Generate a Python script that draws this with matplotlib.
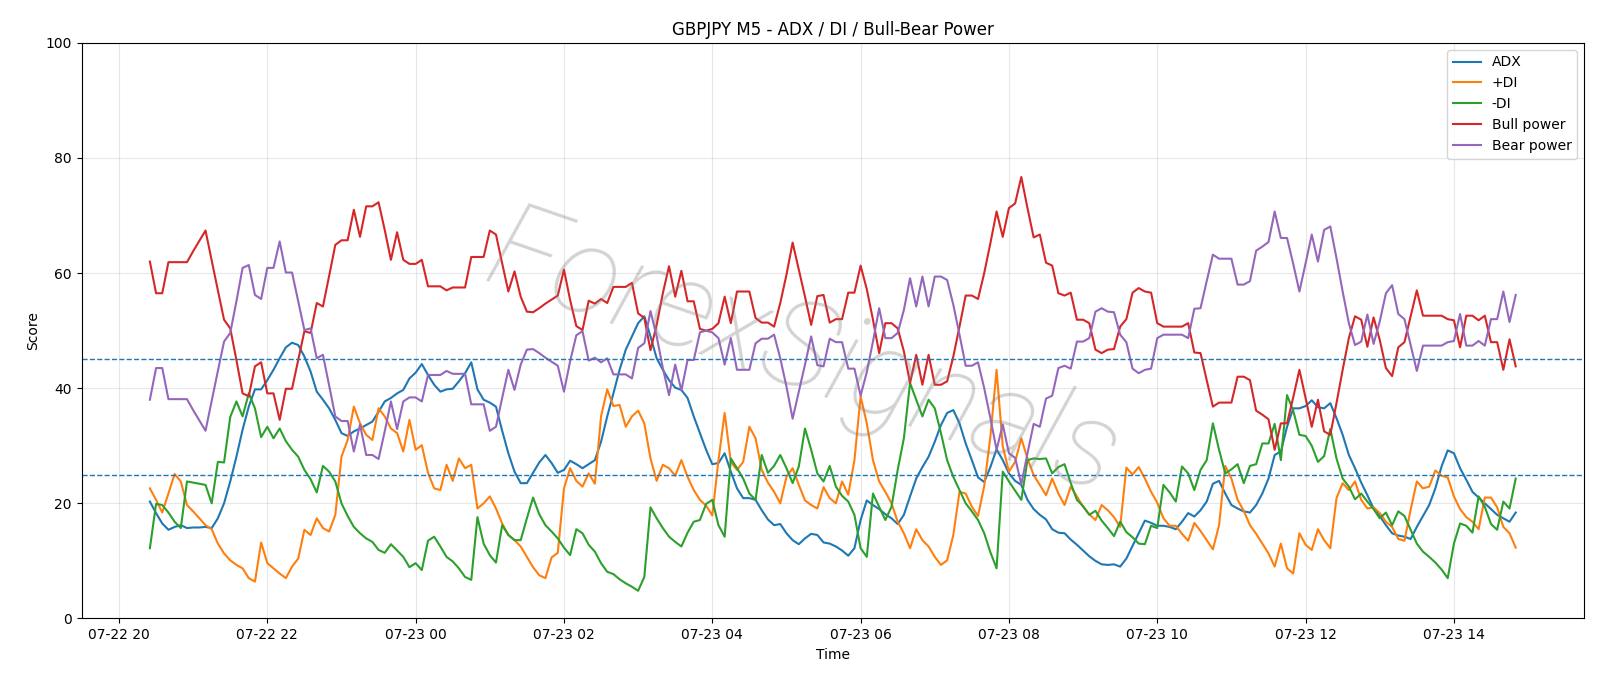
import pandas as pd
import matplotlib
matplotlib.use("Agg")
import matplotlib.pyplot as plt

# GBPJPY M5, 5-minute bars from 07-22 20:25 to 07-23 14:50
start_time = "2025-07-22 20:25"

adx = [
    20.3, 18.3, 16.5, 15.4, 15.9, 16.2, 15.7, 15.8, 15.8, 15.9,
    15.7, 17.4, 20.0, 23.8, 28.1, 32.8, 36.8, 39.8, 39.8, 41.4,
    43.2, 45.2, 47.1, 47.9, 47.5, 45.5, 42.9, 39.4, 38.0, 36.5,
    34.5, 32.2, 31.7, 32.5, 33.0, 33.6, 34.2, 35.9, 37.7, 38.3,
    39.1, 39.7, 41.7, 42.7, 44.2, 42.3, 40.6, 39.4, 39.8, 39.9,
    41.2, 42.6, 44.5, 39.8, 38.0, 37.5, 36.8, 32.6, 28.7, 25.5,
    23.5, 23.5, 25.3, 27.1, 28.4, 27.0, 25.3, 25.8, 27.4, 26.8,
    26.1, 26.8, 27.5, 30.7, 35.1, 39.1, 43.2, 46.7, 49.0, 51.3,
    52.5, 49.0, 45.2, 43.2, 41.4, 40.1, 39.7, 38.3, 35.1, 32.2,
    29.3, 26.8, 27.0, 28.7, 25.5, 22.6, 20.9, 20.9, 20.6, 18.8,
    17.2, 16.2, 16.4, 14.8, 13.6, 12.9, 13.9, 14.7, 14.5, 13.2,
    13.0, 12.5, 11.8, 10.9, 12.2, 17.1, 20.5, 19.7, 19.0, 18.1,
    17.4, 16.4, 18.0, 21.2, 24.3, 26.3, 28.1, 30.7, 33.6, 35.7,
    36.2, 33.9, 30.4, 27.5, 24.5, 23.7, 26.3, 29.4, 27.5, 25.2,
    23.9, 23.2, 20.6, 19.0, 18.0, 17.2, 15.5, 14.9, 14.8, 13.7,
    12.8, 11.8, 10.8, 10.0, 9.4, 9.3, 9.4, 9.0, 10.4, 12.6,
    14.8, 17.0, 16.6, 16.1, 16.1, 15.9, 15.5, 16.8, 18.3, 17.7,
    18.8, 20.3, 23.4, 23.9, 21.7, 19.7, 19.1, 18.6, 18.4, 19.7,
    21.7, 24.3, 28.4, 29.0, 33.3, 36.5, 36.5, 36.9, 37.9, 36.7,
    36.5, 37.4, 34.8, 31.9, 28.4, 26.1, 23.6, 21.4, 19.1, 17.8,
    16.2, 14.8, 14.4, 14.2, 13.8, 15.9, 17.8, 19.7, 22.6, 26.4,
    29.2, 28.7, 26.1, 24.1, 22.0, 21.0, 20.0, 19.0, 18.0, 17.4,
    16.8, 18.4,
]

plus_di = [
    22.6, 20.6, 18.4, 21.7, 25.1, 23.8, 19.7, 18.6, 17.4, 16.2,
    15.5, 13.0, 11.3, 10.1, 9.3, 8.7, 7.0, 6.4, 13.2, 9.6,
    8.7, 7.8, 7.0, 9.0, 10.4, 15.4, 14.5, 17.4, 15.7, 15.1,
    18.0, 28.1, 31.0, 36.8, 33.9, 31.9, 31.0, 36.5, 35.1, 33.0,
    32.2, 29.0, 34.5, 29.3, 30.1, 25.3, 22.6, 22.3, 26.7, 23.9,
    27.8, 26.1, 26.7, 19.1, 20.0, 21.2, 19.1, 16.5, 14.5, 13.6,
    12.5, 10.7, 8.9, 7.5, 7.0, 10.6, 11.4, 22.6, 26.1, 23.9,
    22.9, 25.2, 23.4, 35.1, 39.8, 36.9, 37.1, 33.3, 35.1, 36.1,
    33.9, 27.8, 23.9, 26.7, 26.1, 24.8, 27.5, 24.6, 22.3, 20.6,
    19.6, 17.9, 27.5, 35.7, 27.2, 25.8, 27.2, 33.3, 31.3, 25.8,
    23.6, 22.0, 20.0, 24.6, 26.1, 23.2, 20.5, 19.7, 19.1, 22.8,
    20.9, 20.0, 23.8, 21.5, 27.5, 38.6, 33.9, 27.5, 23.8, 22.0,
    20.0, 16.8, 14.8, 12.2, 15.5, 13.6, 12.5, 10.7, 9.3, 10.1,
    14.5, 22.0, 21.7, 19.4, 17.8, 23.0, 31.6, 43.2, 29.9, 25.5,
    27.2, 31.3, 27.8, 24.9, 23.2, 21.4, 24.3, 21.7, 19.7, 22.9,
    21.2, 19.4, 18.1, 17.1, 19.7, 18.8, 17.6, 15.9, 26.2, 25.0,
    26.3, 24.3, 22.0, 20.1, 17.4, 16.1, 16.1, 14.7, 13.5, 16.6,
    15.2, 13.6, 12.0, 16.2, 26.5, 24.3, 20.6, 18.7, 16.2, 14.7,
    13.0, 11.3, 9.0, 13.0, 8.7, 7.8, 14.8, 12.8, 11.9, 15.5,
    13.6, 12.2, 20.9, 23.5, 22.3, 23.8, 20.6, 19.1, 19.3, 18.3,
    16.8, 15.9, 13.8, 13.5, 18.9, 23.8, 22.6, 22.9, 25.7, 24.8,
    24.5, 21.2, 19.0, 17.6, 16.8, 15.5, 21.0, 21.0, 19.3, 15.9,
    14.8, 12.3,
]

minus_di = [
    12.2, 19.9, 19.7, 18.4, 16.8, 15.7, 23.8, 23.6, 23.4, 23.2,
    20.0, 27.2, 27.1, 35.0, 37.7, 35.1, 39.1, 36.5, 31.5, 33.3,
    31.3, 33.0, 30.8, 29.3, 28.1, 25.8, 24.2, 21.9, 26.5, 25.5,
    23.8, 20.0, 17.8, 15.9, 14.8, 13.9, 13.3, 11.9, 11.4, 12.9,
    11.8, 10.7, 8.9, 9.6, 8.4, 13.5, 14.2, 12.5, 10.7, 9.9,
    8.7, 7.2, 6.7, 17.6, 13.0, 11.0, 9.7, 16.2, 14.5, 13.6,
    13.6, 17.4, 21.0, 18.1, 16.2, 15.1, 13.9, 12.3, 11.0, 15.5,
    14.8, 12.8, 11.6, 9.6, 8.1, 7.7, 6.8, 6.1, 5.5, 4.8,
    7.2, 19.3, 17.4, 15.7, 14.2, 13.3, 12.5, 14.9, 16.8, 17.1,
    19.9, 20.6, 16.2, 14.2, 27.8, 26.1, 24.3, 21.7, 20.6, 28.4,
    25.3, 26.5, 28.4, 26.1, 23.5, 26.4, 33.0, 29.3, 25.2, 23.8,
    26.5, 22.9, 21.3, 20.3, 18.0, 12.2, 10.7, 21.7, 19.4, 17.1,
    19.4, 25.8, 31.3, 40.9, 38.0, 35.1, 38.0, 36.5, 32.2, 27.5,
    24.6, 22.3, 20.0, 18.6, 17.1, 14.8, 11.5, 8.7, 25.5, 23.8,
    22.2, 20.6, 27.5, 27.8, 27.7, 27.8, 25.2, 26.3, 26.8, 23.5,
    20.6, 19.5, 18.0, 18.7, 17.0, 15.7, 14.3, 16.8, 15.0, 14.1,
    13.0, 12.9, 16.1, 15.7, 23.2, 21.9, 20.3, 26.4, 25.2, 22.3,
    25.8, 27.5, 33.9, 29.3, 25.2, 25.9, 26.8, 23.5, 26.5, 26.8,
    30.4, 30.4, 33.8, 27.5, 38.8, 36.1, 31.9, 31.7, 30.0, 27.2,
    28.2, 32.9, 27.8, 24.3, 22.9, 20.7, 21.7, 20.3, 19.0, 17.4,
    18.4, 16.2, 18.6, 17.8, 15.4, 13.0, 11.6, 10.7, 9.7, 8.5,
    7.0, 13.0, 16.5, 16.1, 14.9, 21.2, 19.4, 16.4, 15.4, 20.3,
    19.1, 24.3,
]

bull_power = [
    62.0, 56.5, 56.5, 61.9, 61.9, 61.9, 61.9, 63.8, 65.6, 67.4,
    62.2, 57.0, 51.9, 50.4, 44.9, 39.1, 38.6, 43.8, 44.5, 39.1,
    39.1, 34.5, 39.9, 39.9, 44.9, 49.9, 49.6, 54.8, 54.2, 59.5,
    64.9, 65.7, 65.7, 71.0, 66.3, 71.6, 71.6, 72.3, 67.5, 62.3,
    67.1, 62.3, 61.6, 61.6, 62.3, 57.7, 57.7, 57.7, 57.0, 57.5,
    57.5, 57.5, 62.8, 62.8, 62.8, 67.4, 66.7, 61.7, 56.8, 60.3,
    55.9, 53.3, 53.2, 53.9, 54.7, 55.4, 56.1, 60.6, 55.3, 50.8,
    50.1, 55.2, 54.7, 55.5, 54.8, 57.6, 57.6, 57.6, 58.3, 53.0,
    52.2, 46.6, 51.0, 56.5, 61.2, 55.9, 60.4, 55.1, 55.1, 50.3,
    50.0, 50.3, 51.3, 55.9, 51.3, 56.8, 56.8, 56.8, 52.2, 51.4,
    51.4, 50.7, 54.8, 59.7, 65.3, 60.6, 55.9, 51.0, 56.0, 56.2,
    51.4, 52.0, 52.0, 56.6, 56.6, 61.3, 57.2, 51.9, 46.1, 51.3,
    51.3, 50.4, 46.4, 40.9, 45.8, 40.6, 45.8, 40.6, 40.6, 41.2,
    45.5, 50.7, 56.1, 56.1, 55.5, 60.0, 65.2, 70.7, 66.3, 71.3,
    72.1, 76.7, 71.3, 66.2, 66.7, 61.8, 61.3, 56.5, 56.1, 56.6,
    51.9, 51.9, 51.3, 46.7, 46.1, 46.7, 46.8, 50.7, 52.0, 56.6,
    57.4, 56.8, 56.6, 51.3, 50.7, 50.7, 50.7, 50.7, 51.3, 46.2,
    46.1, 41.4, 36.8, 37.5, 37.5, 37.5, 42.0, 42.0, 41.4, 36.1,
    35.4, 34.6, 29.3, 33.9, 33.9, 38.4, 43.2, 38.3, 33.3, 38.0,
    32.5, 31.9, 37.4, 43.2, 48.7, 52.5, 51.9, 47.2, 52.3, 48.4,
    43.5, 42.1, 47.1, 48.0, 52.5, 57.0, 52.6, 52.6, 52.6, 52.6,
    52.0, 51.8, 47.1, 52.6, 52.6, 51.8, 52.6, 48.0, 48.0, 43.2,
    48.5, 43.8,
]

bear_power = [
    38.0, 43.5, 43.5, 38.1, 38.1, 38.1, 38.1, 36.2, 34.4, 32.6,
    37.8, 43.0, 48.1, 49.6, 55.1, 60.9, 61.4, 56.2, 55.5, 60.9,
    60.9, 65.5, 60.1, 60.1, 55.1, 50.1, 50.4, 45.2, 45.8, 40.5,
    35.1, 34.3, 34.3, 29.0, 33.7, 28.4, 28.4, 27.7, 32.5, 37.7,
    32.9, 37.7, 38.4, 38.4, 37.7, 42.3, 42.3, 42.3, 43.0, 42.5,
    42.5, 42.5, 37.2, 37.2, 37.2, 32.6, 33.3, 38.3, 43.2, 39.7,
    44.1, 46.7, 46.8, 46.1, 45.3, 44.6, 43.9, 39.4, 44.7, 49.2,
    49.9, 44.8, 45.3, 44.5, 45.2, 42.4, 42.4, 42.4, 41.7, 47.0,
    47.8, 53.4, 49.0, 43.5, 38.8, 44.1, 39.6, 44.9, 44.9, 49.7,
    50.0, 49.7, 48.7, 44.1, 48.7, 43.2, 43.2, 43.2, 47.8, 48.6,
    48.6, 49.3, 45.2, 40.3, 34.7, 39.4, 44.1, 49.0, 44.0, 43.8,
    48.6, 48.0, 48.0, 43.4, 43.4, 38.7, 42.8, 48.1, 53.9, 48.7,
    48.7, 49.6, 53.6, 59.1, 54.2, 59.4, 54.2, 59.4, 59.4, 58.8,
    54.5, 49.3, 43.9, 43.9, 44.5, 40.0, 34.8, 29.3, 33.7, 28.7,
    27.9, 23.3, 28.7, 33.8, 33.3, 38.2, 38.7, 43.5, 43.9, 43.4,
    48.1, 48.1, 48.7, 53.3, 53.9, 53.3, 53.2, 49.3, 48.0, 43.4,
    42.6, 43.2, 43.4, 48.7, 49.3, 49.3, 49.3, 49.3, 48.7, 53.8,
    53.9, 58.6, 63.2, 62.5, 62.5, 62.5, 58.0, 58.0, 58.6, 63.9,
    64.6, 65.4, 70.7, 66.1, 66.1, 61.6, 56.8, 61.7, 66.7, 62.0,
    67.5, 68.1, 62.6, 56.8, 51.3, 47.5, 48.1, 52.8, 47.7, 51.6,
    56.5, 57.9, 52.9, 52.0, 47.5, 43.0, 47.4, 47.4, 47.4, 47.4,
    48.0, 48.2, 52.9, 47.4, 47.4, 48.2, 47.4, 52.0, 52.0, 56.8,
    51.5, 56.2,
]

levels = [25, 45]

times = pd.date_range(start_time, periods=len(adx), freq="5min")

fig, ax = plt.subplots(figsize=(16, 6.86), dpi=100)
fig.subplots_adjust(left=0.051, right=0.990, top=0.9375, bottom=0.0985)

ax.plot(times, adx, label="ADX")
ax.plot(times, plus_di, label="+DI")
ax.plot(times, minus_di, label="-DI")
ax.plot(times, bull_power, label="Bull power", color="tab:red")
ax.plot(times, bear_power, label="Bear power", color="tab:purple")

for lv in levels:
    ax.axhline(lv, linestyle="--", linewidth=1, color="tab:blue")

# faint watermark across the middle
ax.text(0.48, 0.455, "ForexSignals", transform=ax.transAxes, fontsize=88,
        family="Roboto", fontweight="light", style="italic",
        color="gray", alpha=0.35, rotation=-19, ha="center", va="center")

ax.set_ylim(0, 100)
ax.set_title("GBPJPY M5 - ADX / DI / Bull-Bear Power")
ax.set_xlabel("Time")
ax.set_ylabel("Score")
ax.grid(True, alpha=0.3)
ax.legend(loc="upper right")

fig.savefig("out.png", dpi=100)
